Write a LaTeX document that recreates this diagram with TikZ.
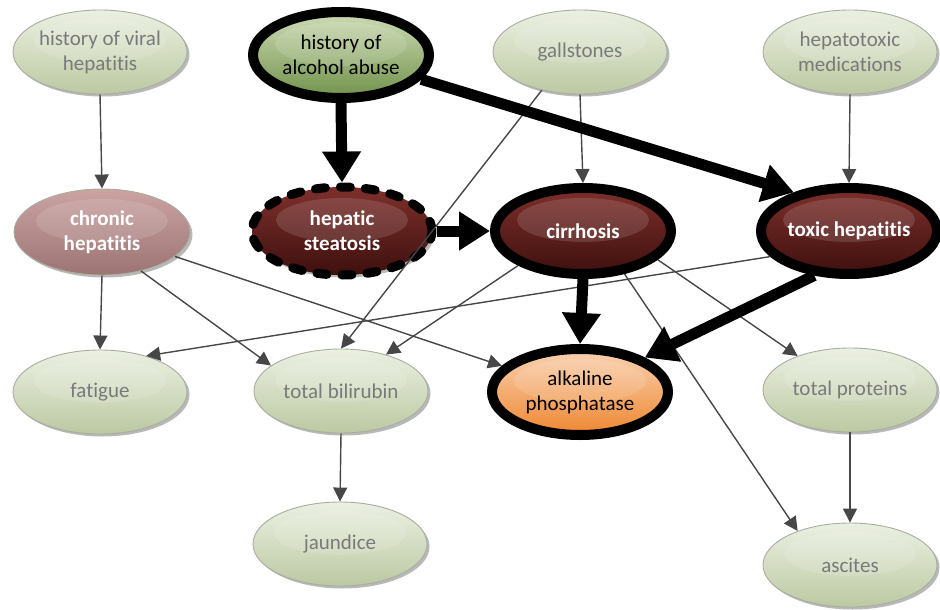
\documentclass[tikz,border=0pt]{standalone}
\usepackage{fontspec}
\setmainfont{Carlito}[Ligatures=NoCommon]
\usetikzlibrary{arrows.meta,shapes.geometric,shadows}
\definecolor{lgtop}{HTML}{EBF0E2}
\definecolor{lgbot}{HTML}{BCC9A2}
\definecolor{lgborder}{HTML}{A9ADA0}
\definecolor{lgtext}{HTML}{7A7A7A}
\definecolor{altop}{HTML}{CFDBB6}
\definecolor{albot}{HTML}{71924A}
\definecolor{chtop}{HTML}{CBA3A3}
\definecolor{chbot}{HTML}{9C7474}
\definecolor{drtop}{HTML}{7E302C}
\definecolor{drbot}{HTML}{3E100E}
\definecolor{aptop}{HTML}{F9D2B2}
\definecolor{apbot}{HTML}{EE8730}
\definecolor{arrowgray}{HTML}{474747}
\begin{document}
\begin{tikzpicture}[x=1pt,y=-1pt,
  base/.style={ellipse, inner sep=0pt, align=center,
    font=\fontsize{21}{25}\selectfont,
    minimum width=174pt, minimum height=84pt,
    drop shadow={shadow xshift=2.5pt,shadow yshift=-2.5pt,opacity=0.28,fill=black},
    path picture={\fill[white,opacity=0.13] ([yshift=11pt]path picture bounding box.center) ellipse [x radius=66pt, y radius=22pt];}},
  light/.style={base, draw=lgborder, line width=0.9pt, top color=lgtop, bottom color=lgbot, text=lgtext},
  alcbox/.style={base, draw=black, line width=10pt, minimum width=176pt, minimum height=86pt, top color=altop, bottom color=albot, text=black},
  chrbox/.style={base, draw=lgborder, line width=0.9pt, minimum width=176pt, minimum height=86pt, top color=chtop, bottom color=chbot, text=white, font=\fontsize{21}{25}\selectfont\bfseries},
  darkbox/.style={base, draw=black, line width=10pt, minimum width=176pt, minimum height=86pt, top color=drtop, bottom color=drbot, text=white, font=\fontsize{21}{25}\selectfont\bfseries},
  dashbox/.style={darkbox, line width=9pt, line cap=round, dash pattern=on 10pt off 15pt, minimum width=180pt, minimum height=88pt},
  apbox/.style={base, draw=black, line width=10pt, minimum width=176pt, minimum height=86pt, top color=aptop, bottom color=apbot, text=black},
  thin/.style={draw=arrowgray, line width=1.4pt, -{Triangle[length=14pt,width=14pt]}},
  thick/.style={draw=black, line width=11pt, -{Triangle[length=31pt,width=37pt]}}
]
\useasboundingbox (0,0) rectangle (940,610);

% nodes
\node[light]   (vir) at (100,52)  {history of viral\\hepatitis};
\node[alcbox]  (alc) at (341,55)  {history of\\alcohol abuse};
\node[light]   (gal) at (580,52)  {gallstones};
\node[light]   (hep) at (850,52)  {hepatotoxic\\medications};
\node[chrbox]  (chr) at (102,232) {chronic\\hepatitis};
\node[dashbox] (ste) at (342,231) {hepatic\\steatosis};
\node[darkbox] (cir) at (583,231) {cirrhosis};
\node[darkbox] (tox) at (849,231) {toxic hepatitis};
\node[light]   (fat) at (100,392) {fatigue};
\node[light]   (bil) at (341,391) {total bilirubin};
\node[apbox]   (alk) at (580,392) {alkaline\\phosphatase};
\node[light]   (pro) at (850,390) {total proteins};
\node[light]   (jau) at (340,544) {jaundice};
\node[light]   (asc) at (850,565) {ascites};

% thin connectors
\draw[thin] (vir.south) -- (chr.north);
\draw[thin] (gal.south) -- (cir.north);
\draw[thin] (gal.225) -- (bil.north);
\draw[thin] (hep.south) -- (tox.north);
\draw[thin] (chr.south) -- (fat.north);
\draw[thin] (chr.-45) -- (bil.160);
\draw[thin] (chr) -- (alk);
\draw[thin] (cir.208) -- (bil.39);
\draw[thin] (cir.-21) -- (pro.147);
\draw[thin] (cir.-46) -- (asc.147);
\draw[thin] (tox.198) -- (fat.38);
\draw[thin] (bil.south) -- (jau.north);
\draw[thin] (pro.south) -- (asc.north);

% thick connectors
\draw[thick] (alc.south) -- (ste.north);
\draw[thick] (alc) -- (tox.145);
\draw[thick] (ste.east) -- (cir.west);
\draw[thick] (cir.south) -- (alk.north);
\draw[thick] (tox.232) -- (alk.28);
\end{tikzpicture}
\end{document}
